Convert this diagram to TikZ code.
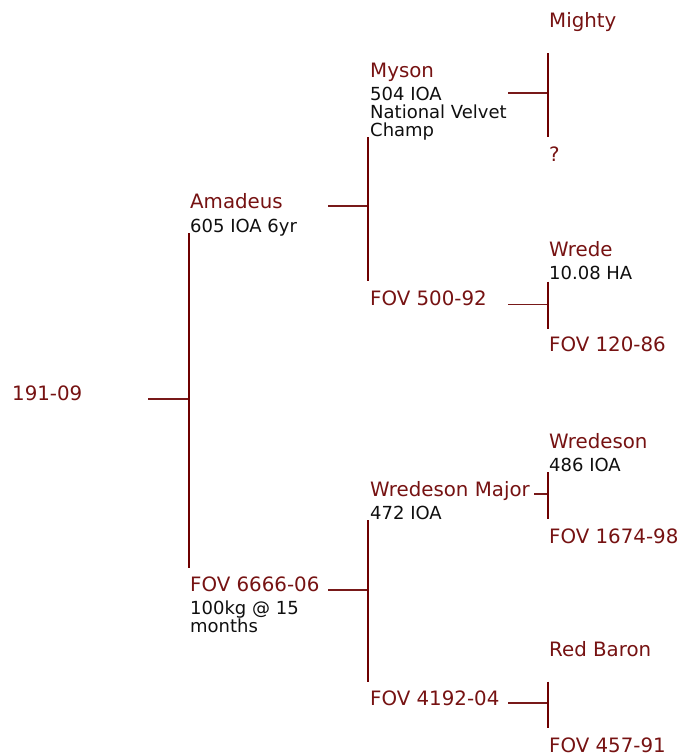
\documentclass[tikz,border=0pt]{standalone}
\usepackage{fontspec}
\setmainfont{DejaVu Sans}
\definecolor{namecol}{RGB}{118,18,18}
\definecolor{linecol}{RGB}{110,0,0}
\definecolor{hlinecol}{RGB}{120,25,25}
\definecolor{detcol}{RGB}{15,15,15}
\tikzset{
  nm/.style={anchor=base west, inner sep=0pt, text=namecol, font=\fontsize{19.8}{20}\selectfont},
  det/.style={anchor=base west, inner sep=0pt, text=detcol, font=\fontsize{18}{18}\selectfont},
  vbar/.style={draw=linecol, line width=2.3pt},
  hbar/.style={draw=hlinecol, line width=1.8pt}
}
\begin{document}
\begin{tikzpicture}[x=1pt, y=-1pt]
\useasboundingbox (0,0) rectangle (687,756);
% generation 0
\node[nm] (r) at (12,400) {191-09};
% generation 1
\node[nm] (a) at (190,208) {Amadeus};
\node[det] (ad) at (190,232.5) {605 IOA 6yr};
\node[nm] (f) at (190,591) {FOV 6666-06};
\node[det] (fd) at (190,614) {\vtop{\hbox{100kg @ 15}\hbox{months}}};
% generation 2
\node[nm] (m) at (370,77) {Myson};
\node[det] (md) at (370,100) {\vtop{\hbox{504 IOA}\hbox{National Velvet}\hbox{Champ}}};
\node[nm] (f5) at (370,305) {FOV 500-92};
\node[nm] (wm) at (370,496.5) {Wredeson Major};
\node[det] (wmd) at (370,519) {472 IOA};
\node[nm] (f4) at (370,705) {FOV 4192-04};
% generation 3
\node[nm] (mi) at (549,27) {Mighty};
\node[nm] (q) at (549,161) {?};
\node[nm] (w) at (549,256.5) {Wrede};
\node[det] (wd) at (549,279.5) {10.08 HA};
\node[nm] (f1) at (549,351.5) {FOV 120-86};
\node[nm] (ws) at (549,448) {Wredeson};
\node[det] (wsd) at (549,471) {486 IOA};
\node[nm] (f16) at (549,543.5) {FOV 1674-98};
\node[nm] (rb) at (549,656.5) {Red Baron};
\node[nm] (f45) at (549,752.5) {FOV 457-91};
% bracket coordinates
\coordinate (h0s) at (148,399); \coordinate (h0e) at (189,399);
\coordinate (v0t) at (189,233); \coordinate (v0b) at (189,567.5);
\coordinate (h1s) at (328,206); \coordinate (h1e) at (368,206);
\coordinate (v1t) at (368,137); \coordinate (v1b) at (368,280.5);
\coordinate (h2s) at (328,590); \coordinate (h2e) at (368,590);
\coordinate (v2t) at (368,520); \coordinate (v2b) at (368,681.5);
\coordinate (h3s) at (508,93.3); \coordinate (h3e) at (548,93.3);
\coordinate (v3t) at (548,53); \coordinate (v3b) at (548,137);
\coordinate (h4s) at (508,304.5); \coordinate (h4e) at (548,304.5);
\coordinate (v4t) at (548,281.5); \coordinate (v4b) at (548,328.5);
\coordinate (h5s) at (534,494.3); \coordinate (h5e) at (548,494.3);
\coordinate (v5t) at (548,472.3); \coordinate (v5b) at (548,519);
\coordinate (h6s) at (508,703.3); \coordinate (h6e) at (548,703.3);
\coordinate (v6t) at (548,681.5); \coordinate (v6b) at (548,728.3);
% connectors
\draw[hbar] (h0s) -- (h0e);
\draw[vbar] (v0t) -- (v0b);
\draw[hbar] (h1s) -- (h1e);
\draw[vbar] (v1t) -- (v1b);
\draw[hbar] (h2s) -- (h2e);
\draw[vbar] (v2t) -- (v2b);
\draw[hbar] (h3s) -- (h3e);
\draw[vbar] (v3t) -- (v3b);
\draw[hbar] (h4s) -- (h4e);
\draw[vbar] (v4t) -- (v4b);
\draw[hbar] (h5s) -- (h5e);
\draw[vbar] (v5t) -- (v5b);
\draw[hbar] (h6s) -- (h6e);
\draw[vbar] (v6t) -- (v6b);
\end{tikzpicture}
\end{document}
